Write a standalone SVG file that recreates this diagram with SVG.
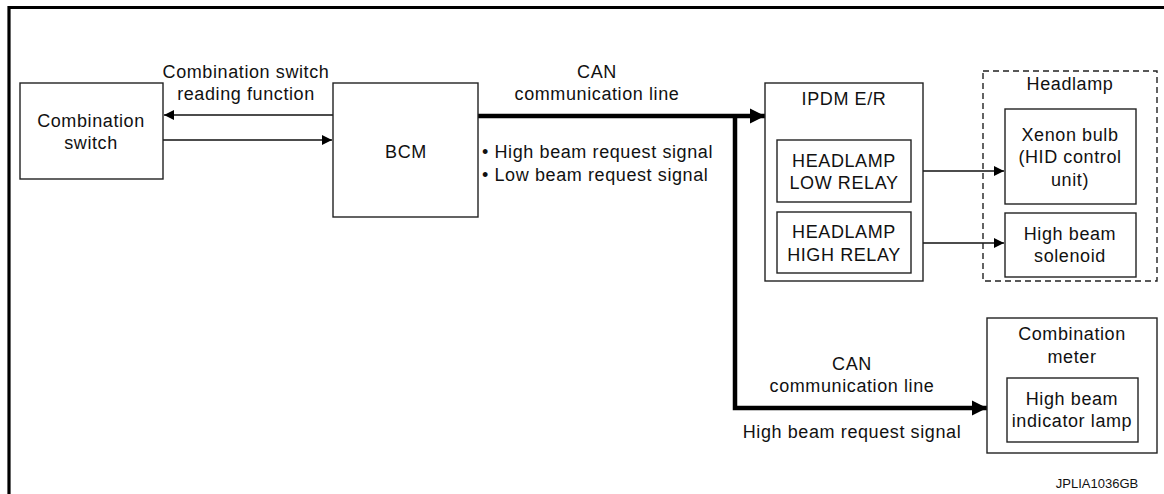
<svg xmlns="http://www.w3.org/2000/svg" width="1164" height="494" viewBox="0 0 1164 494">
<style>
text{font-family:"Liberation Sans",Arial,sans-serif;font-size:18px;fill:#111;letter-spacing:0.6px}
.c{text-anchor:middle}
.box{fill:#fff;stroke:#222;stroke-width:1.4}
.dash{fill:none;stroke:#222;stroke-width:1.4;stroke-dasharray:6 4}
.thin{fill:none;stroke:#111;stroke-width:1.4}
.thick{fill:none;stroke:#000;stroke-width:4.5}
.code{font-size:13px;letter-spacing:0}
</style>
<defs>
<marker id="ah" viewBox="0 0 10 10" refX="10" refY="5" markerWidth="10" markerHeight="10" markerUnits="userSpaceOnUse" orient="auto"><path d="M0,0 L10,5 L0,10 z" fill="#000"/></marker>
<marker id="ahb" viewBox="0 0 10 10" refX="10" refY="5" markerWidth="15" markerHeight="17" markerUnits="userSpaceOnUse" orient="auto"><path d="M0,0 L10,5 L0,10 z" fill="#000"/></marker>
</defs>
<g id="frame"><path d="M9,494 V7.5 H1164" fill="none" stroke="#000" stroke-width="3.2"/></g>
<g id="connectors">
<line class="thin" x1="333" y1="115" x2="164" y2="115" marker-end="url(#ah)"/>
<line class="thin" x1="163" y1="140" x2="332" y2="140" marker-end="url(#ah)"/>
<line class="thick" x1="478" y1="116" x2="765" y2="116" marker-end="url(#ahb)"/>
<polyline class="thick" points="735,116 735,408 987,408" marker-end="url(#ahb)"/>
<line class="thin" x1="911" y1="171" x2="1004" y2="171" marker-end="url(#ah)"/>
<line class="thin" x1="911" y1="243" x2="1004" y2="243" marker-end="url(#ah)"/>
<text class="c" x="246" y="78">Combination switch</text>
<text class="c" x="246" y="100">reading function</text>
<text class="c" x="597" y="78">CAN</text>
<text class="c" x="597" y="100">communication line</text>
<text x="482" y="158">• High beam request signal</text>
<text x="482" y="181">• Low beam request signal</text>
<text class="c" x="852" y="370">CAN</text>
<text class="c" x="852" y="392">communication line</text>
<text class="c" x="852" y="438">High beam request signal</text>
</g>
<g id="combination-switch">
<rect class="box" x="20" y="83" width="143" height="96"/>
<text class="c" x="91" y="127">Combination</text>
<text class="c" x="91" y="149">switch</text>
</g>
<g id="bcm">
<rect class="box" x="333" y="83" width="145" height="134"/>
<text class="c" x="406" y="158">BCM</text>
</g>
<g id="ipdm">
<rect class="box" x="765" y="83" width="158" height="198"/>
<text class="c" x="844" y="105">IPDM E/R</text>
<g id="low-relay">
<rect class="box" x="777" y="140" width="134" height="62"/>
<text class="c" x="844" y="167">HEADLAMP</text>
<text class="c" x="844" y="189">LOW RELAY</text>
</g>
<g id="high-relay">
<rect class="box" x="777" y="212" width="134" height="61"/>
<text class="c" x="844" y="238">HEADLAMP</text>
<text class="c" x="844" y="261">HIGH RELAY</text>
</g>
</g>
<g id="headlamp">
<rect class="dash" x="983" y="71" width="174" height="210"/>
<text class="c" x="1070" y="90">Headlamp</text>
<g id="xenon">
<rect class="box" x="1005" y="109" width="131" height="95"/>
<text class="c" x="1070" y="141">Xenon bulb</text>
<text class="c" x="1070" y="163">(HID control</text>
<text class="c" x="1070" y="186">unit)</text>
</g>
<g id="solenoid">
<rect class="box" x="1005" y="213" width="131" height="64"/>
<text class="c" x="1070" y="240">High beam</text>
<text class="c" x="1070" y="262">solenoid</text>
</g>
</g>
<g id="combination-meter">
<rect class="box" x="987" y="318" width="170" height="135"/>
<text class="c" x="1072" y="340">Combination</text>
<text class="c" x="1072" y="363">meter</text>
<g id="indicator">
<rect class="box" x="1007" y="378" width="131" height="64"/>
<text class="c" x="1072" y="405">High beam</text>
<text class="c" x="1072" y="427">indicator lamp</text>
</g>
</g>
<text class="code c" x="1097" y="488">JPLIA1036GB</text>
</svg>
